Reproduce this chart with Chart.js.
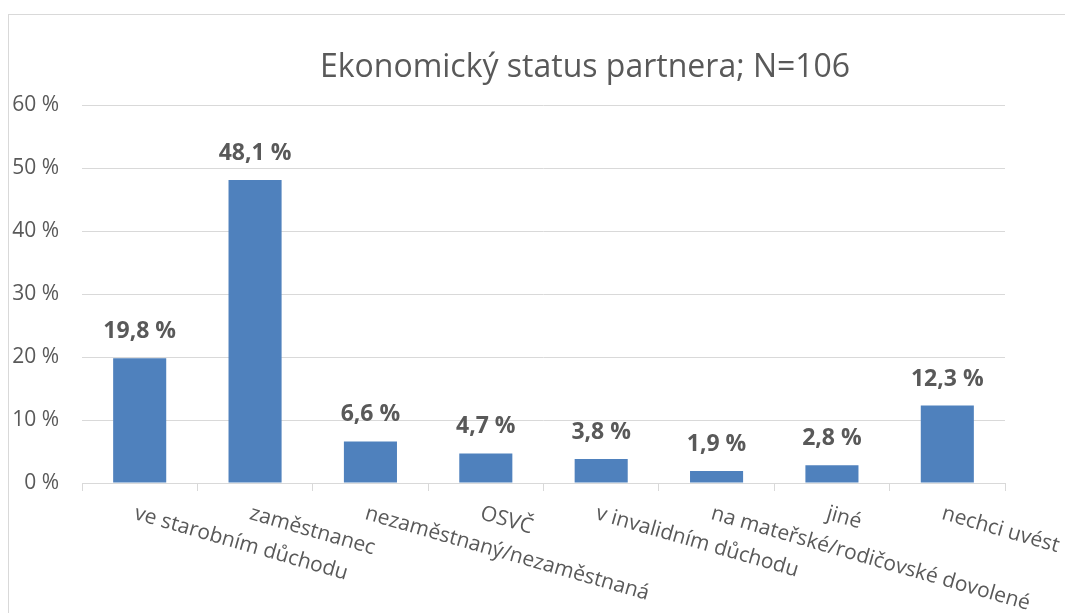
<!DOCTYPE html>
<html>
<head>
<meta charset="utf-8">
<script src="https://cdn.jsdelivr.net/npm/chart.js@4/dist/chart.umd.min.js"></script>
<style>
    html, body { margin: 0; padding: 0; background: #fff; }
    #frame {
        position: absolute; left: 8px; top: 14px; width: 1057px; height: 599px;
        border-left: 1px solid #d9d9d9; border-top: 1px solid #d9d9d9;
    }
    #frame canvas { display: block; }
</style>
</head>
<body>
<div id="frame"><canvas id="chart" width="1056" height="598"></canvas></div>
<script>
// Ekonomický status partnera; N=106 — shares in percent
const CATEGORIES = [
    've starobním důchodu',
    'zaměstnanec',
    'nezaměstnaný/nezaměstnaná',
    'OSVČ',
    'v invalidním důchodu',
    'na mateřské/rodičovské dovolené',
    'jiné',
    'nechci uvést',
];
const SHARES = [19.8, 48.1, 6.6, 4.7, 3.8, 1.9, 2.8, 12.3];
const Y_TICKS = [0, 10, 20, 30, 40, 50, 60];

const TITLE = 'Ekonomický status partnera; N=106';
const FONT = '"Open Sans", "DejaVu Sans", sans-serif';
const TEXT = '#595959';
const GRID = '#d9d9d9';

const fmt = (v) => v.toFixed(1).replace('.', ',') + ' %';

// Title, value labels and the slanted category labels are drawn here,
// anchored on the library's own scales.
const decorations = {
    id: 'decorations',
    afterDraw(chart) {
        const ctx = chart.ctx;
        const area = chart.chartArea;
        const x = chart.scales.x;

        ctx.save();
        ctx.fillStyle = TEXT;
        ctx.font = '32px ' + FONT;
        ctx.textAlign = 'center';
        ctx.textBaseline = 'middle';
        ctx.fillText(TITLE, chart.width * 0.5455, 53);

        ctx.font = 'bold 23px ' + FONT;
        ctx.textBaseline = 'alphabetic';
        chart.getDatasetMeta(0).data.forEach((bar, i) => {
            ctx.fillText(fmt(SHARES[i]), bar.x, bar.y - 20);
        });

        ctx.font = '21px ' + FONT;
        ctx.textAlign = 'left';
        ctx.textBaseline = 'top';
        CATEGORIES.forEach((label, i) => {
            ctx.save();
            ctx.translate(x.getPixelForValue(i) - 2, area.bottom + 20);
            ctx.rotate(16 * Math.PI / 180);
            ctx.fillText(label, 0, 0);
            ctx.restore();
        });
        ctx.restore();
    },
};

new Chart(document.getElementById('chart'), {
    type: 'bar',
    data: {
        labels: CATEGORIES,
        datasets: [{
            data: SHARES,
            backgroundColor: '#4f81bd',
            categoryPercentage: 1,
            barPercentage: 0.46,
        }],
    },
    options: {
        responsive: false,
        animation: false,
        events: [],
        layout: { padding: { left: 0, right: 60, top: 90, bottom: 0 } },
        plugins: { legend: { display: false }, tooltip: { enabled: false } },
        scales: {
            x: {
                grid: { offset: true, drawOnChartArea: false, color: GRID, tickLength: 8 },
                border: { display: true, color: GRID },
                ticks: { color: 'rgba(0,0,0,0)', maxRotation: 0, minRotation: 0, autoSkip: false },
                afterFit(scale) { scale.height = 130; },
            },
            y: {
                min: 0,
                max: 60,
                afterBuildTicks(scale) { scale.ticks = Y_TICKS.map((v) => ({ value: v })); },
                grid: { color: GRID, drawTicks: false },
                border: { display: false },
                ticks: {
                    color: TEXT,
                    font: { family: FONT, size: 21 },
                    padding: 23,
                    callback: (v) => v + ' %',
                },
                afterFit(scale) { scale.width = 73; },
            },
        },
    },
    plugins: [decorations],
});
</script>
</body>
</html>
